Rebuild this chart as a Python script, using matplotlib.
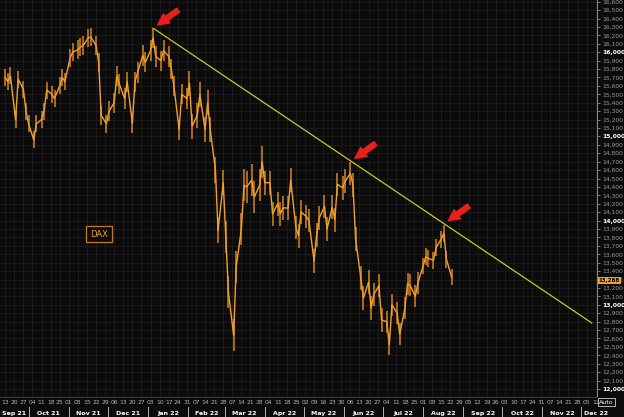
import matplotlib
matplotlib.use("Agg")
import matplotlib.pyplot as plt
import matplotlib.dates as mdates
import matplotlib.transforms as mtrans
from matplotlib.lines import Line2D
import numpy as np
import pandas as pd

###########################
# DAX mid prices, one every 2nd business day from 13 Sep 2021
start_date = '2021-09-13'
dax = [15700, 15650, 15720, 15200, 15680, 15560, 15300,
       15150, 14960, 15150, 15200, 15300, 15550, 15500, 15450, 15600, 15700, 15650,
       15930, 16000, 16030, 16060, 16080, 16170, 16180, 16080, 15880, 15250, 15150,
       15300, 15400, 15720, 15620, 15450, 15650, 15160, 15650, 15760, 15960, 15880,
       16020, 16170, 15950, 15900, 16020, 15950, 15800, 15600, 15080, 15500, 15450,
       15630, 15120, 15250, 15500, 15080, 15400, 15080, 14600, 13880, 14450,
       13800, 13150, 12640, 13450, 13900, 14420, 14400, 14480, 14280, 14420, 14700,
       14450, 14450, 14080, 14200, 14080, 14150, 14150, 14480, 13920, 13820, 14100,
       14050, 14000, 13520, 13830, 14030, 14170, 13900, 14160, 14010, 14430, 14390,
       14470, 14560, 14420, 13780, 13320, 13080, 13270, 12960, 13120, 13230, 12820,
       12800, 12530, 13000, 12900, 12650, 12960, 13250, 13230, 13100, 13260,
       13460, 13570, 13550, 13530, 13680, 13780, 13850, 13540, 13330]
last_price = 13288

# typical height of the daily bars in each month (Sep 21 .. Aug 22), points
month_range = [200, 200, 220, 240, 240, 300, 380, 280, 280, 280, 260, 200]

# trend line drawn on the chart (start at the January high, end in December)
trend_dates = ['2022-01-05', '2022-12-09']
trend_values = [16285, 12784]

# peaks marked with red arrows
peak_dates = ['2022-01-05', '2022-06-06', '2022-08-17']
peak_values = [16285, 14700, 13960]

months = ['Sep 21', 'Oct 21', 'Nov 21', 'Dec 21', 'Jan 22', 'Feb 22', 'Mar 22', 'Apr 22',
          'May 22', 'Jun 22', 'Jul 22', 'Aug 22', 'Sep 22', 'Oct 22', 'Nov 22', 'Dec 22']

###########################
bg = '#0b0b0b'
grid_c = '#1e1e1e'
orange = '#f0a030'
bar_c = '#d4861e'
yellow = '#c9c62e'
red = '#e8201c'
lab_c = '#9c9c9c'

plt.rcParams['font.family'] = 'DejaVu Sans'

dates = pd.bdate_range(start_date, periods=len(dax), freq='2B')
first_month = pd.Period(start_date, 'M')
half = np.array([month_range[(d.to_period('M') - first_month).n] for d in dates]) / 2
vals = np.array(dax)

fig = plt.figure(figsize=(6.24, 4.17), dpi=100, facecolor=bg)
ax = fig.add_axes([0, 20/417, 597/624, 397/417], facecolor=bg)

ax.vlines(dates, vals - half, vals + half, color=bar_c, lw=1.1, zorder=3)
ax.plot(dates, dax, color=orange, lw=1.0, zorder=4)
ax.plot(pd.to_datetime(trend_dates), trend_values, color=yellow, lw=0.9, zorder=2)

for d, v in zip(pd.to_datetime(peak_dates), peak_values):
    ax.annotate('', xy=(d, v), xytext=(18, 13), textcoords='offset points',
                arrowprops=dict(arrowstyle='simple,head_length=0.8,head_width=0.8,tail_width=0.35',
                                color=red, shrinkA=0, shrinkB=4), zorder=5)

ax.text(0.151, 0.41, 'DAX', transform=ax.transAxes, color=orange, fontsize=6,
        ha='left', va='center',
        bbox=dict(boxstyle='square,pad=0.45', fc=bg, ec='#c57a1c', lw=0.9))

###########################
x0, x1 = pd.Timestamp('2021-09-09'), pd.Timestamp('2022-12-13')
ax.set_xlim(x0, x1)
ax.set_ylim(11905, 16620)

# y axis on the right, every 100 points, bold at the thousands
ax.yaxis.tick_right()
yt = np.arange(12000, 16601, 100)
ax.set_yticks(yt)
ax.set_yticklabels([f'{t:,}' for t in yt])
for t, lab in zip(yt, ax.get_yticklabels()):
    if t % 1000 == 0:
        lab.set_color('white')
        lab.set_fontweight('bold')
    else:
        lab.set_color(lab_c)
ax.tick_params(axis='y', labelsize=4.3, length=2.5, width=0.6, color='#8a8a8a', pad=1)

# weekly day numbers along the bottom
weeks = pd.date_range('2021-09-13', '2022-12-12', freq='7D')
ax.set_xticks(weeks)
ax.xaxis.set_major_formatter(mdates.DateFormatter('%d'))
ax.tick_params(axis='x', labelsize=4.3, labelcolor='#b5b5b5', length=0, pad=2.5)

ax.grid(which='major', color=grid_c, lw=0.6)
for s in ['top', 'left']:
    ax.spines[s].set_visible(False)
ax.spines['right'].set_color('#8a8a8a')
ax.spines['bottom'].set_color('#3a3a3a')
ax.spines['right'].set_linewidth(0.7)

# month row with separators
blend = mtrans.blended_transform_factory(ax.transData, ax.transAxes)
month_starts = pd.date_range('2021-10-01', '2022-12-01', freq='MS')
for m in month_starts:
    ax.add_line(Line2D([m, m], [-0.024, -0.055], transform=blend, color='#cfcfcf',
                       lw=0.6, clip_on=False))
edges = [x0] + list(month_starts) + [x1]
for name, a, b in zip(months, edges[:-1], edges[1:]):
    if name == months[-1]:
        ax.text(a + pd.Timedelta(days=2), -0.041, name, transform=blend, color='white',
                fontsize=4.5, fontweight='bold', ha='left', va='center', clip_on=False)
    else:
        ax.text(a + (b - a) / 2, -0.041, name, transform=blend, color='white', fontsize=4.5,
                fontweight='bold', ha='center', va='center', clip_on=False)

# last price tag and Auto button
ax.text(1.003, last_price, f'{last_price:,}', transform=ax.get_yaxis_transform(),
        color='black', fontsize=4.0, fontweight='bold', ha='left', va='center',
        bbox=dict(boxstyle='square,pad=0.2', fc=orange, ec=orange, lw=0), zorder=6)
fig.text(599/624, 1 - 402/417, 'Auto', color='white', fontsize=4.5, ha='left', va='center',
         bbox=dict(boxstyle='square,pad=0.2', fc=bg, ec='#d0d0d0', lw=0.6))

plt.savefig('out.png', dpi=100, facecolor=bg)
